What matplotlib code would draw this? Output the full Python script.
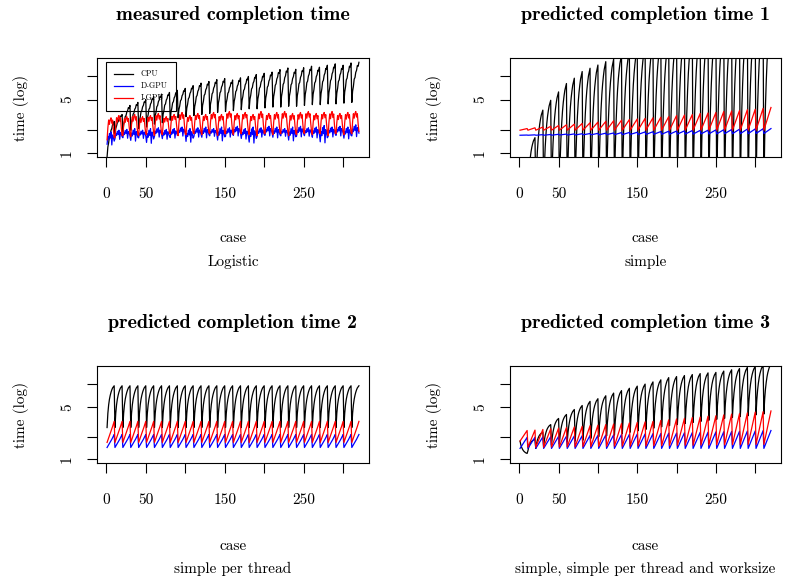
import numpy as np
import matplotlib.pyplot as plt

plt.rcParams['font.family'] = 'cmr10'
plt.rcParams['mathtext.fontset'] = 'cm'
plt.rcParams['axes.formatter.use_mathtext'] = True

# 320 cases = 32 groups of 10
cases = np.arange(1, 321)

# shape of one group (position between first and last value, log scale)
shape_curved = [0.0, 0.30, 0.50, 0.64, 0.75, 0.83, 0.89, 0.94, 0.97, 1.0]
shape_straight = [0.0, 0.11, 0.22, 0.33, 0.44, 0.56, 0.67, 0.78, 0.89, 1.0]
shape_cpu_meas = [0.0, 0.28, 0.40, 0.58, 0.62, 0.75, 0.80, 0.92, 0.90, 1.0]
shape_igpu_meas = [0.0, 0.55, 0.90, 0.70, 0.92, 1.0, 0.75, 0.90, 0.45, 0.10]
shape_dgpu_meas = [0.20, 0.70, 0.50, 0.90, 0.60, 1.0, 0.15, 0.80, 0.65, 0.40]

# --- measured (Logistic) ---
cpu1_lo = [0.9, 1.8, 1.9, 2.0, 2.1, 2.2, 2.4, 2.5, 2.7, 2.9, 3.0, 3.1, 3.2, 3.3, 3.4, 3.5,
           3.6, 3.7, 3.8, 3.8, 3.9, 4.0, 4.0, 4.1, 4.1, 4.2, 4.3, 4.3, 4.4, 4.4, 4.5, 4.6]
cpu1_hi = [2.6, 3.2, 4.2, 4.6, 5.0, 5.5, 5.9, 6.2, 6.6, 7.0, 7.6, 8.2, 8.6, 9.1, 9.4, 9.0,
           9.6, 10.0, 10.6, 11.0, 11.4, 12.3, 12.9, 12.4, 13.0, 13.6, 13.2, 14.0, 14.6, 14.0, 15.0, 15.3]
igpu1_lo = [1.5, 1.6, 1.7, 1.65, 1.7, 1.75, 1.7, 1.75, 1.8, 1.7, 1.75, 1.8, 1.75, 1.8, 1.7, 1.8,
            1.75, 1.8, 1.75, 1.7, 1.8, 1.75, 1.8, 1.7, 1.75, 1.8, 1.75, 1.8, 1.7, 1.8, 1.75, 1.8]
igpu1_hi = [2.9, 3.1, 3.0, 3.2, 3.0, 3.1, 3.3, 3.0, 3.2, 3.4, 3.1, 3.3, 3.2, 3.4, 3.2, 3.5,
            3.3, 3.4, 3.2, 3.5, 3.3, 3.4, 3.5, 3.3, 3.4, 3.5, 3.3, 3.4, 3.5, 3.3, 3.4, 3.5]
dgpu1_lo = [1.2, 1.45, 1.5, 1.35, 1.5, 1.25, 1.55, 1.45, 1.5, 1.6, 1.3, 1.55, 1.5, 1.6, 1.35, 1.55,
            1.6, 1.45, 1.25, 1.55, 1.6, 1.5, 1.6, 1.35, 1.55, 1.6, 1.5, 1.25, 1.55, 1.6, 1.45, 1.55]
dgpu1_hi = [1.9, 2.0, 2.05, 2.1, 2.0, 2.1, 2.15, 2.05, 2.1, 2.2, 2.1, 2.15, 2.2, 2.1, 2.2, 2.15,
            2.25, 2.1, 2.2, 2.15, 2.25, 2.2, 2.1, 2.2, 2.25, 2.15, 2.2, 2.3, 2.2, 2.25, 2.2, 2.35]

# --- predicted 1 (simple) ---
cpu2_lo = [0.3] * 32
cpu2_hi = [0.7, 1.6, 3.65, 4.9, 6.3, 8.1, 9.5, 11.6, 12.8, 14.1, 15.6, 16.8, 19, 21, 23, 25,
           27, 29, 31, 33, 35, 37, 39, 41, 43, 45, 47, 49, 51, 53, 55, 57]
igpu2_lo = [2.0] * 32
igpu2_hi = [2.1, 2.15, 2.2, 2.25, 2.3, 2.35, 2.4, 2.45, 2.5, 2.55, 2.6, 2.65, 2.7, 2.75, 2.8, 2.85,
            2.9, 2.95, 3.0, 3.1, 3.15, 3.2, 3.3, 3.35, 3.4, 3.5, 3.55, 3.6, 3.7, 3.75, 3.85, 3.95]
dgpu2_lo = [1.72, 1.72, 1.72, 1.72, 1.72, 1.73, 1.73, 1.73, 1.74, 1.74, 1.74, 1.75, 1.75, 1.75, 1.76, 1.76,
            1.76, 1.77, 1.77, 1.77, 1.78, 1.78, 1.78, 1.79, 1.79, 1.79, 1.8, 1.8, 1.8, 1.8, 1.81, 1.81]
dgpu2_hi = [1.73, 1.74, 1.75, 1.76, 1.77, 1.78, 1.79, 1.8, 1.81, 1.82, 1.83, 1.84, 1.86, 1.87, 1.88, 1.9,
            1.91, 1.92, 1.94, 1.95, 1.96, 1.98, 1.99, 2.0, 2.02, 2.03, 2.04, 2.06, 2.07, 2.08, 2.09, 2.1]

# --- predicted 2 (simple per thread): the same group every time ---
cpu3_group = [2.65, 4.1, 5.3, 6.3, 7.1, 7.8, 8.4, 8.9, 9.2, 9.5]
igpu3_group = [1.68, 1.8, 1.93, 2.07, 2.22, 2.38, 2.55, 2.74, 2.95, 3.2]
dgpu3_group = [1.44, 1.5, 1.56, 1.63, 1.7, 1.77, 1.85, 1.95, 2.04, 2.14]

# --- predicted 3 (simple, simple per thread and worksize) ---
cpu4_lo = [1.75, 1.3, 1.4, 1.5, 1.55, 1.6, 1.7, 1.75, 1.8, 1.9, 2.0, 2.05, 2.1, 2.2, 2.3, 2.4,
           2.5, 2.6, 2.7, 2.8, 2.9, 3.0, 3.1, 3.2, 3.3, 3.4, 3.5, 3.6, 3.7, 3.8, 3.9, 4.0]
cpu4_hi = [1.2, 1.85, 2.3, 2.9, 3.5, 3.95, 4.6, 5.2, 5.9, 6.4, 7.0, 7.6, 8.2, 8.8, 9.4, 10.0,
           10.7, 11.4, 12.2, 12.6, 13.0, 13.4, 13.8, 14.1, 14.3, 14.9, 15.5, 16.1, 16.7, 17.2, 17.8, 18.4]
igpu4_lo = [1.75, 1.45, 1.45, 1.45, 1.46, 1.46, 1.47, 1.47, 1.48, 1.48, 1.49, 1.49, 1.5, 1.5, 1.5, 1.51,
            1.51, 1.52, 1.52, 1.53, 1.53, 1.54, 1.54, 1.55, 1.55, 1.56, 1.56, 1.57, 1.57, 1.58, 1.58, 1.58]
igpu4_hi = [2.42, 2.45, 2.5, 2.55, 2.6, 2.65, 2.7, 2.75, 2.8, 2.85, 2.9, 2.95, 3.0, 3.05, 3.1, 3.15,
            3.2, 3.3, 3.35, 3.45, 3.5, 3.6, 3.65, 3.75, 3.8, 3.9, 4.0, 4.05, 4.15, 4.25, 4.3, 4.4]
dgpu4_lo = [1.4] * 32
dgpu4_hi = [1.96, 1.97, 1.99, 2.0, 2.02, 2.03, 2.05, 2.06, 2.08, 2.09, 2.11, 2.12, 2.14, 2.15, 2.17, 2.18,
            2.2, 2.21, 2.23, 2.24, 2.26, 2.27, 2.29, 2.3, 2.32, 2.33, 2.35, 2.36, 2.38, 2.39, 2.41, 2.42]


def groups(lo, hi, shape):
    lo = np.array(lo, dtype=float)[:, None]
    hi = np.array(hi, dtype=float)[:, None]
    return (lo * (hi / lo) ** np.array(shape)[None, :]).ravel()


panels = [
    ("measured completion time", "Logistic",
     groups(cpu1_lo, cpu1_hi, shape_cpu_meas),
     groups(dgpu1_lo, dgpu1_hi, shape_dgpu_meas),
     groups(igpu1_lo, igpu1_hi, shape_igpu_meas)),
    ("predicted completion time 1", "simple",
     groups(cpu2_lo, cpu2_hi, shape_curved),
     groups(dgpu2_lo, dgpu2_hi, shape_straight),
     groups(igpu2_lo, igpu2_hi, shape_straight)),
    ("predicted completion time 2", "simple per thread",
     np.tile(cpu3_group, 32), np.tile(dgpu3_group, 32), np.tile(igpu3_group, 32)),
    ("predicted completion time 3", "simple, simple per thread and worksize",
     groups(cpu4_lo, cpu4_hi, shape_curved),
     groups(dgpu4_lo, dgpu4_hi, shape_straight),
     groups(igpu4_lo, igpu4_hi, shape_straight)),
]

W, H = 787, 582
fig = plt.figure(figsize=(W / 100, H / 100), dpi=100)

# axes boxes in pixels: left, top, right, bottom
boxes = [(97, 58, 369, 157), (510, 58, 781, 157), (97, 366, 369, 463), (510, 366, 781, 463)]
title_y = [15, 15, 323, 323]
case_y = [238, 238, 546, 546]
sub_y = [262, 262, 569, 569]

for i, (title, sub, cpu, dgpu, igpu) in enumerate(panels):
    l, t, r, b = boxes[i]
    ax = fig.add_axes([l / W, 1 - b / H, (r - l) / W, (b - t) / H])
    ax.plot(cases, cpu, color="black", lw=0.9, label="CPU")
    ax.plot(cases, dgpu, color="#0000ff", lw=0.9, label="D-GPU")
    ax.plot(cases, igpu, color="#ff0000", lw=0.9, label="I-GPU")
    ax.set_yscale('log')
    ax.set_xlim(-11.76, 332.76)
    ax.set_ylim(0.896, 17.4)
    ax.set_xticks([0, 50, 100, 150, 200, 250, 300])
    ax.set_xticklabels(['0', '50', '', '150', '', '250', ''])
    ax.set_yticks([1, 2, 5, 10])
    ax.set_yticklabels(['1', '', '5', ''])
    ax.yaxis.set_minor_locator(plt.NullLocator())
    ax.tick_params(length=7.5, width=0.8, labelsize=11)
    ax.tick_params(axis='x', pad=14)
    ax.tick_params(axis='y', pad=9, labelrotation=90)
    plt.setp(ax.get_yticklabels(), va='center')
    for s in ax.spines.values():
        s.set_linewidth(0.8)

    cx = (l + r) / 2 / W
    fig.text(cx, 1 - title_y[i] / H, title, ha='center', va='center',
             fontsize=14.5, family='cmb10')
    fig.text(cx, 1 - case_y[i] / H, "case", ha='center', va='center', fontsize=11)
    fig.text(cx, 1 - sub_y[i] / H, sub, ha='center', va='center', fontsize=11)
    fig.text((l - 76) / W, 1 - (t + b) / 2 / H, "time (log)", rotation=90,
             ha='center', va='center', fontsize=11)

    if i == 0:
        leg = ax.legend(loc='upper left', bbox_to_anchor=(0.033, 0.96), borderaxespad=0,
                        fontsize=5.8, fancybox=False, edgecolor='black', facecolor='none',
                        framealpha=1, handlelength=2.3, handletextpad=1.0,
                        labelspacing=0.45, borderpad=1.0)
        leg.get_frame().set_linewidth(0.8)

fig.savefig("out.png", dpi=100)
